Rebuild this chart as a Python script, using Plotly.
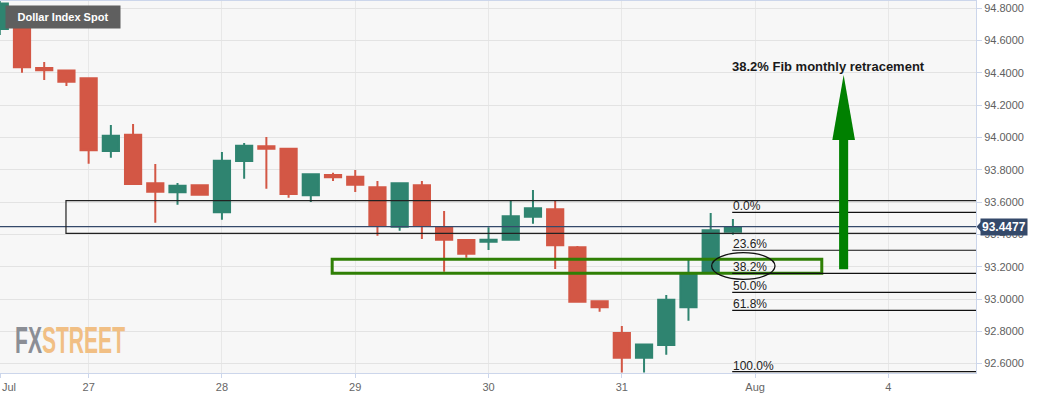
import plotly.graph_objects as go

# ---------------- data ----------------
# 4-hour candles, x in "day" units (27 = 27 Jul, 32 = Aug, 33 = 4)
candle_day = [26] * 4 + [27] * 6 + [28] * 6 + [29] * 6 + [30] * 6 + [31] * 6
candle_slot = [2, 3, 4, 5] + [0, 1, 2, 3, 4, 5] * 5
open_ = [94.672, 94.672, 94.430, 94.414, 94.367, 93.916, 94.017, 93.716, 93.661, 93.704,
         93.537, 93.854, 93.946, 93.931, 93.642, 93.768, 93.757, 93.692, 93.448, 93.704,
         93.441, 93.365, 93.355, 93.367, 93.510, 93.555, 93.320, 92.986, 92.789, 92.637,
         92.715, 92.949, 93.165, 93.417]
high = [94.850, 94.676, 94.468, 94.416, 94.370, 94.077, 94.084, 93.836, 93.718, 93.710,
        93.910, 93.966, 94.003, 93.935, 93.776, 93.782, 93.799, 93.731, 93.720, 93.731,
        93.545, 93.367, 93.444, 93.609, 93.675, 93.607, 93.328, 92.990, 92.833, 92.720,
        93.025, 93.242, 93.533, 93.495]
low = [94.635, 94.401, 94.356, 94.319, 93.838, 93.875, 93.710, 93.472, 93.584, 93.639,
       93.491, 93.745, 93.683, 93.627, 93.601, 93.731, 93.663, 93.392, 93.423, 93.371,
       93.169, 93.256, 93.303, 93.365, 93.466, 93.186, 92.977, 92.921, 92.545, 92.545,
       92.655, 92.866, 93.163, 93.398]
close = [94.830, 94.435, 94.416, 94.345, 93.921, 94.011, 93.712, 93.664, 93.702, 93.646,
         93.856, 93.949, 93.931, 93.650, 93.772, 93.754, 93.708, 93.454, 93.716, 93.452,
         93.367, 93.280, 93.367, 93.512, 93.562, 93.333, 92.983, 92.949, 92.637, 92.719,
         92.996, 93.155, 93.425, 93.441]
last_price = 93.4477

tick_vals = [26.34, 27, 28, 29, 30, 31, 32, 33]
tick_text = ["", "27", "28", "29", "30", "31", "Aug", "4"]
x_range = [26.335, 33.657]
y_range = [92.542, 94.845]

# resistance zone (black box) and 38.2% zone (green box)
zone_black_x = [26.83, 34.2]
zone_black_y = [93.407, 93.609]
zone_green_x = [28.827, 32.5]
zone_green_y = [93.159, 93.246]

# Fibonacci levels
fib_start = 31.828
fib_labels = ["0.0%", "23.6%", "38.2%", "50.0%", "61.8%", "100.0%"]
fib_levels = [93.537, 93.302, 93.159, 93.041, 92.930, 92.550]

# ellipse around 38.2%
ellipse_x = [31.674, 32.149]
ellipse_y = [93.122, 93.287]

# target arrow
arrow_x = 32.664
arrow_shaft_half = 0.034
arrow_head_half = 0.085
arrow_y_bottom = 93.184
arrow_y_headbase = 93.985
arrow_y_tip = 94.387
arrow_text = "38.2% Fib monthly retracement"
arrow_text_pos = (32.552, 94.438)

x = [d + s / 6 for d, s in zip(candle_day, candle_slot)]

RED = "#d35745"
GREEN = "#2f8470"
FONT = "Liberation Sans, Arial, sans-serif"

fig = go.Figure()
fig.add_trace(go.Candlestick(
    x=x, open=open_, high=high, low=low, close=close,
    increasing=dict(line=dict(color=GREEN, width=2), fillcolor=GREEN),
    decreasing=dict(line=dict(color=RED, width=2), fillcolor=RED),
    whiskerwidth=0, hoverinfo="skip", showlegend=False,
))

shapes = []
# current price line
shapes.append(dict(type="line", xref="paper", x0=0, x1=1, yref="y", y0=last_price, y1=last_price,
                   line=dict(color="#34496a", width=1.2), layer="above"))
# black zone
shapes.append(dict(type="rect", xref="x", yref="y", x0=zone_black_x[0], x1=zone_black_x[1],
                   y0=zone_black_y[0], y1=zone_black_y[1], line=dict(color="#222222", width=1.2)))
# green zone
shapes.append(dict(type="rect", xref="x", yref="y", x0=zone_green_x[0], x1=zone_green_x[1],
                   y0=zone_green_y[0], y1=zone_green_y[1], line=dict(color="#2f7f05", width=3)))
# fib lines
for lv in fib_levels:
    shapes.append(dict(type="line", xref="x", yref="y", x0=fib_start, x1=x_range[1],
                       y0=lv, y1=lv, line=dict(color="#111111", width=1.2)))
# ellipse
shapes.append(dict(type="circle", xref="x", yref="y", x0=ellipse_x[0], x1=ellipse_x[1],
                   y0=ellipse_y[0], y1=ellipse_y[1], line=dict(color="#111111", width=1.3)))
# arrow shaft and head
shapes.append(dict(type="rect", xref="x", yref="y",
                   x0=arrow_x - arrow_shaft_half, x1=arrow_x + arrow_shaft_half,
                   y0=arrow_y_bottom, y1=arrow_y_headbase + 0.01,
                   line=dict(width=0), fillcolor="#008000"))
head_path = (f"M {arrow_x - arrow_head_half} {arrow_y_headbase} "
             f"L {arrow_x + arrow_head_half} {arrow_y_headbase} "
             f"L {arrow_x} {arrow_y_tip} Z")
shapes.append(dict(type="path", xref="x", yref="y", path=head_path,
                   line=dict(width=0), fillcolor="#008000"))
# price tag pointer
px = 1 / 976
shapes.append(dict(type="path", xref="paper", yref="y",
                   path=f"M {1 + 0.5 * px} {last_price} L {1 + 5 * px} {last_price + 0.03} "
                        f"L {1 + 5 * px} {last_price - 0.03} Z",
                   line=dict(width=0), fillcolor="#34496a", layer="above"))

annotations = []
for lab, lv in zip(fib_labels, fib_levels):
    annotations.append(dict(x=fib_start, y=lv, xref="x", yref="y", text=lab, showarrow=False,
                            xanchor="left", yanchor="bottom", xshift=-1, yshift=-3,
                            font=dict(family=FONT, size=12, color="#222222")))
annotations.append(dict(x=arrow_text_pos[0], y=arrow_text_pos[1], xref="x", yref="y",
                        text="<b>" + arrow_text + "</b>", showarrow=False,
                        font=dict(family=FONT, size=13, color="#1a1a1a")))
annotations.append(dict(x=5 / 976, y=1, xref="paper", yref="paper", xanchor="left", yanchor="top",
                        yshift=-4, text="<b>Dollar Index Spot</b>", showarrow=False,
                        bgcolor="#5f5f5f", borderpad=4, width=106, height=14,
                        font=dict(family=FONT, size=11, color="#ffffff")))
annotations.append(dict(x=1, y=last_price, xref="paper", yref="y", xanchor="left", yanchor="middle",
                        xshift=4, text="<b>93.4477</b>", showarrow=False,
                        bgcolor="#34496a", borderpad=1,
                        font=dict(family=FONT, size=12, color="#ffffff")))
annotations.append(dict(x=0, y=0, xref="paper", yref="paper", xanchor="left", yanchor="top",
                        yshift=-6, text="Jul", showarrow=False,
                        font=dict(family=FONT, size=11, color="#666666")))
annotations.append(dict(x=70 / 976, y=0.027, xref="paper", yref="paper", xanchor="center",
                        yanchor="bottom", showarrow=False,
                        text="<span style='color:#8b8e95'><b>FX</b></span>"
                             "<span style='color:#f1bf84'><b>STREET</b></span>",
                        font=dict(family=FONT, size=36)))

fig.update_layout(
    width=1053, height=399,
    margin=dict(l=0, r=77, t=1, b=26),
    paper_bgcolor="#ffffff", plot_bgcolor="#f7f7f7",
    boxgap=0.27, boxgroupgap=0,
    shapes=shapes, annotations=annotations,
    showlegend=False,
    font=dict(family=FONT),
)
fig.update_xaxes(
    range=x_range, tickmode="array", tickvals=tick_vals, ticktext=tick_text,
    showgrid=True, gridcolor="#e8e8e8", gridwidth=1, zeroline=False,
    showline=True, linecolor="#ccd6eb", linewidth=1, mirror=True,
    ticks="outside", ticklen=4, tickcolor="#ccd6eb",
    tickfont=dict(family=FONT, size=11, color="#666666"),
    rangeslider=dict(visible=False), fixedrange=True,
)
fig.update_yaxes(
    range=y_range, side="right", tick0=92.6, dtick=0.2, tickformat=".4f",
    showgrid=True, gridcolor="#e3e3e3", gridwidth=1, zeroline=False,
    showline=True, linecolor="#ccd6eb", linewidth=1, mirror=True,
    ticks="outside", ticklen=5, tickcolor="#ccd6eb",
    tickfont=dict(family=FONT, size=11, color="#606060"), fixedrange=True,
)

post = """
document.body.style.margin = '0';
var gd = document.getElementById('{plot_id}');
gd.querySelectorAll('g.annotation text').forEach(function (t) {
  if (t.textContent.indexOf('STREET') >= 0) {
    t.setAttribute('textLength', '110');
    t.setAttribute('lengthAdjust', 'spacingAndGlyphs');
  }
});
"""

fig.write_html("out.html", config={"displayModeBar": False}, post_script=post)
